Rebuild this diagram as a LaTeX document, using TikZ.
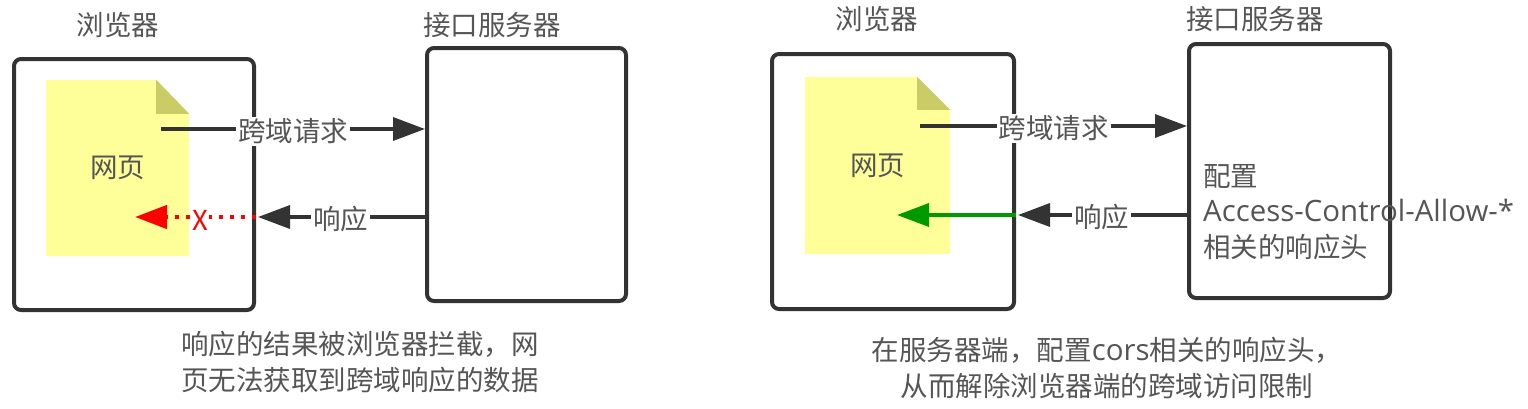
\documentclass[tikz,border=0pt]{standalone}
\usepackage{fontspec}
\setmainfont{Noto Sans CJK SC}
\newfontfamily\latinfont[Scale=1.07]{Open Sans}
\usetikzlibrary{arrows.meta}
\usetikzlibrary{calc}
\definecolor{ink}{HTML}{333333}
\definecolor{txt}{HTML}{555555}
\definecolor{paper}{HTML}{FFFF99}
\definecolor{foldcol}{HTML}{CCCC66}
\definecolor{okgreen}{HTML}{009900}
\tikzset{
  box/.style={draw=ink,line width=4pt,rounded corners=7pt,fill=white},
  page/.style={fill=paper,text=txt,inner sep=0pt},
  title/.style={text=txt,inner sep=0pt},
  tag/.style={fill=white,text=txt,inner sep=2pt,yshift=-2.5pt},
  note/.style={text=txt,inner sep=0pt,align=center},
  flow/.style={draw=ink,line width=3.5pt,-{Triangle[length=32pt,width=23pt]}},
}
\begin{document}
\begin{tikzpicture}[x=1pt,y=-1pt,font=\fontsize{27.5}{35.5}\selectfont]
	\useasboundingbox (0,0) rectangle (1528,408);
	% left
	\node[title] (browserAtitle) at (118,25) {浏览器};
	\node[title] (serverAtitle) at (492,25) {接口服务器};
	\node[box,minimum width=240pt,minimum height=251pt] (browserA) at (134,184.5) {};
	\node[box,minimum width=199pt,minimum height=253pt] (serverA) at (526.5,174.5) {};
	\node[page,minimum width=143pt,minimum height=176pt] (pageA) at (117.5,168) {网页};
	\fill[white] ($(pageA.north east)+(-33,0)$) -- (pageA.north east) -- ($(pageA.north east)+(0,34)$) -- cycle;
	\fill[foldcol] ($(pageA.north east)+(-33,0)$) -- ($(pageA.north east)+(0,34)$) -- ($(pageA.north east)+(-33,34)$) -- cycle;
	\coordinate (reqA) at (161,129);
	\coordinate (respA) at (135,217);
	\draw[flow] (reqA) -- node[tag] (reqAtag) {跨域请求} (serverA.west |- reqA);
	\draw[flow,draw=red,line width=4.5pt,dash pattern=on 4pt off 7pt,-{Triangle[length=32pt,width=23pt,red,sep=0pt]}] (browserA.east |- respA) -- (respA);
	\node[fill=white,text=red,inner sep=1pt] (blocked) at (200,220) {X};
	\draw[flow,shorten >=2pt] (serverA.west |- respA) -- node[tag] (respAtag) {响应} (browserA.east |- respA);
	\node[note] (noteA) at (360,362) {响应的结果被浏览器拦截，网\\页无法获取到跨域响应的数据};
	% right
	\node[title] (browserBtitle) at (877,19) {浏览器};
	\node[title] (serverBtitle) at (1255,19) {接口服务器};
	\node[box,minimum width=242pt,minimum height=255pt] (browserB) at (893,181.5) {};
	\node[box,minimum width=201pt,minimum height=254pt] (serverB) at (1289.5,171) {};
	\node[page,minimum width=145pt,minimum height=177pt] (pageB) at (877.5,165.5) {网页};
	\fill[white] ($(pageB.north east)+(-33,0)$) -- (pageB.north east) -- ($(pageB.north east)+(0,33)$) -- cycle;
	\fill[foldcol] ($(pageB.north east)+(-33,0)$) -- ($(pageB.north east)+(0,33)$) -- ($(pageB.north east)+(-33,33)$) -- cycle;
	\coordinate (reqB) at (920,126);
	\coordinate (respB) at (897,215);
	\draw[flow] (reqB) -- node[tag] (reqBtag) {跨域请求} (serverB.west |- reqB);
	\draw[flow,draw=okgreen,-{Triangle[length=32pt,width=23pt,okgreen]}] (browserB.east |- respB) -- (respB);
	\draw[flow,shorten >=2pt] (serverB.west |- respB) -- node[tag] (respBtag) {响应} (browserB.east |- respB);
	\node[note,align=left,anchor=west] (headers) at (1203,212) {配置\\{\latinfont Access-Control-Allow-*}\\相关的响应头};
	\node[note] (noteB) at (1107,368) {在服务器端，配置{\latinfont cors}相关的响应头，\\从而解除浏览器端的跨域访问限制};
\end{tikzpicture}
\end{document}
